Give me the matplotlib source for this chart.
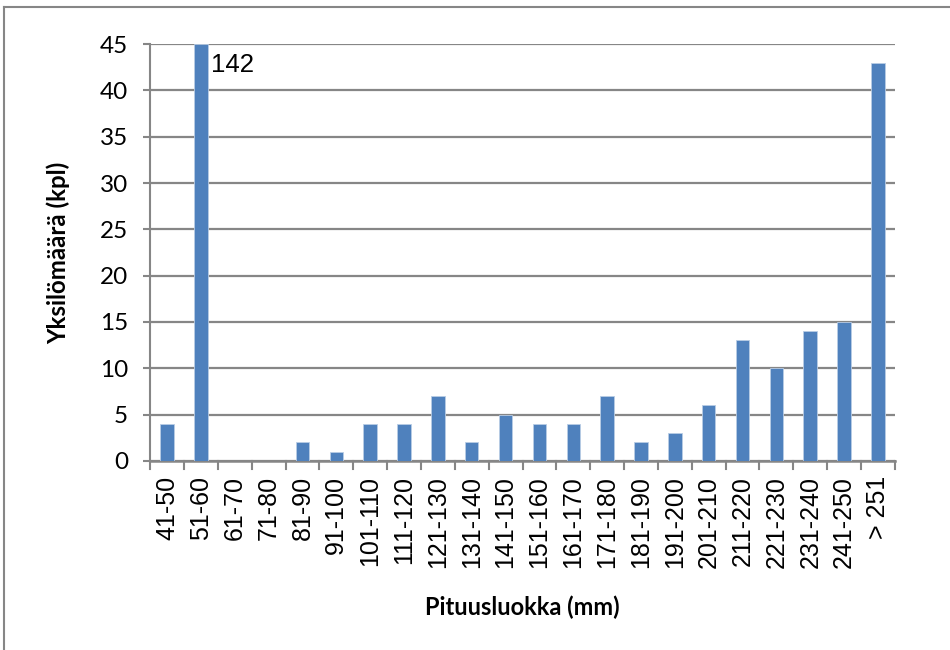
import numpy as np
import matplotlib
matplotlib.use("Agg")
import matplotlib.pyplot as plt
from matplotlib.lines import Line2D

# pituusluokat ja yksilömäärät
luokat = ["41-50", "51-60", "61-70", "71-80", "81-90", "91-100", "101-110",
          "111-120", "121-130", "131-140", "141-150", "151-160", "161-170",
          "171-180", "181-190", "191-200", "201-210", "211-220", "221-230",
          "231-240", "241-250", "> 251"]
maarat = [4, 142, 0, 0, 2, 1, 4, 4, 7, 2, 5, 4, 4, 7, 2, 3, 6, 13, 10, 14, 15, 43]
y_max = 45
y_ticks = list(range(0, 50, 5))

harmaa = "#868686"
sininen = "#4F81BD"

fig = plt.figure(figsize=(9.5, 6.5), dpi=100)
ax = fig.add_axes([0.158, 0.291, 0.784, 0.641])

x = np.arange(len(luokat))
ax.bar(x, np.minimum(maarat, y_max), width=0.4, color=sininen,
       edgecolor="#B9CDE5", linewidth=0.6, zorder=3)

# katkaistun pylvään arvo
for i, v in enumerate(maarat):
    if v > y_max:
        ax.text(i + 0.3, y_max - 2.2, str(v), fontsize=18.5,
                family="Liberation Sans", va="center", ha="left")

ax.set_xlim(-0.5, len(luokat) - 0.5)
ax.set_ylim(0, y_max)
ax.set_yticks(y_ticks)
ax.set_yticklabels([str(t) for t in y_ticks], family="Lato", fontsize=17.5)
ax.set_xticks(x)
ax.set_xticklabels(luokat, rotation=90, family="Liberation Sans", fontsize=18)
ax.tick_params(axis="x", length=0, pad=11)
ax.tick_params(axis="y", length=5, width=1.5, color=harmaa, pad=11)
for b in np.arange(-0.5, len(luokat), 1.0):
    ax.plot([b, b], [0, -0.02], transform=ax.get_xaxis_transform(),
            color=harmaa, lw=1.5, clip_on=False)

ax.grid(axis="y", color=harmaa, lw=1.6, zorder=0)
for s in ["top", "right"]:
    ax.spines[s].set_visible(False)
ax.spines["left"].set_color(harmaa)
ax.spines["left"].set_linewidth(1.5)
ax.spines["bottom"].set_color(harmaa)
ax.spines["bottom"].set_linewidth(1.8)

ax.set_xlabel("Pituusluokka (mm)", family="Lato", fontweight="bold",
              fontsize=17, labelpad=20)
ax.set_ylabel("Yksilömäärä (kpl)", family="Lato", fontweight="bold",
              fontsize=17.3, labelpad=21)

# kehys
fig.add_artist(Line2D([4 / 950, 4 / 950], [0, 1 - 6.5 / 650],
                      transform=fig.transFigure, color=harmaa, lw=1.5))
fig.add_artist(Line2D([4 / 950, 1], [1 - 6.5 / 650, 1 - 6.5 / 650],
                      transform=fig.transFigure, color=harmaa, lw=1.5))

fig.savefig("out.png", dpi=100)
